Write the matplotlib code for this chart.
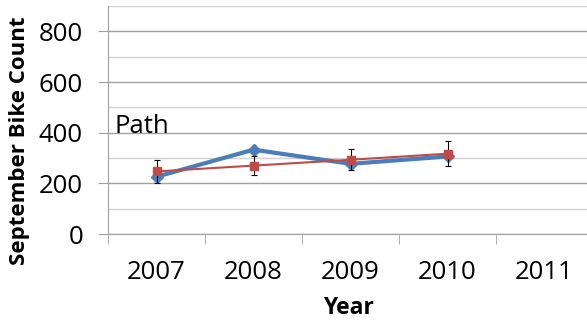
import matplotlib
matplotlib.use("Agg")
import matplotlib.pyplot as plt
import numpy as np

years = ["2007", "2008", "2009", "2010", "2011"]
blue_vals = [226, 333, 277, 306]
red_vals = [247, 270, 293, 317]
red_err = [45, 38, 42, 50]

plt.rcParams['font.family'] = ['Open Sans', 'DejaVu Sans']

W, H = 587, 322
fig = plt.figure(figsize=(W/100, H/100), dpi=100)
ax = fig.add_axes([108/W, 1-234/H, 485/W, 228/H])

x = np.arange(len(blue_vals))
ax.plot(x, blue_vals, color='#4A7EBB', lw=3, marker='D', ms=6, zorder=3)
ax.errorbar(x, red_vals, yerr=red_err, color='#BE4B48', lw=1.5, marker='s', ms=6,
            ecolor='black', elinewidth=0.8, capsize=2, capthick=0.8, zorder=4)

ax.set_xlim(-0.5, len(years) - 0.5)
ax.set_ylim(0, 900)
ax.set_yticks([0, 200, 400, 600, 800])
ax.set_yticks([100, 300, 500, 700, 900], minor=True)
ax.yaxis.grid(True, which='major', color='#A0A0A0', lw=1)
ax.yaxis.grid(True, which='minor', color='#D0D0D0', lw=1)
ax.set_axisbelow(True)
ax.set_xticks(np.arange(len(years)))
ax.set_xticklabels(years)
ax.set_xticks(np.arange(len(years) + 1) - 0.5, minor=True)
ax.tick_params(axis='x', which='major', length=0, labelsize=18.5, pad=19)
ax.tick_params(axis='x', which='minor', length=7, color='#A0A0A0', direction='out')
ax.tick_params(axis='y', which='major', length=7, color='#A0A0A0', labelsize=18.5, pad=11)
ax.tick_params(axis='y', which='minor', length=0)
for s in ['top', 'right']:
    ax.spines[s].set_visible(False)
for s in ['left', 'bottom']:
    ax.spines[s].set_color('#A0A0A0')

fig.text(20/W, 1-141/H, 'September Bike Count', rotation=90, fontsize=16,
         fontweight='bold', ha='center', va='center')
fig.text(348/W, 1-308/H, 'Year', fontsize=16.5, fontweight='bold', ha='center', va='center')
ax.text(114/W, 1-133/H, 'Path', transform=fig.transFigure, fontsize=18.5,
        va='baseline', ha='left')

fig.savefig('out.png', dpi=100)
